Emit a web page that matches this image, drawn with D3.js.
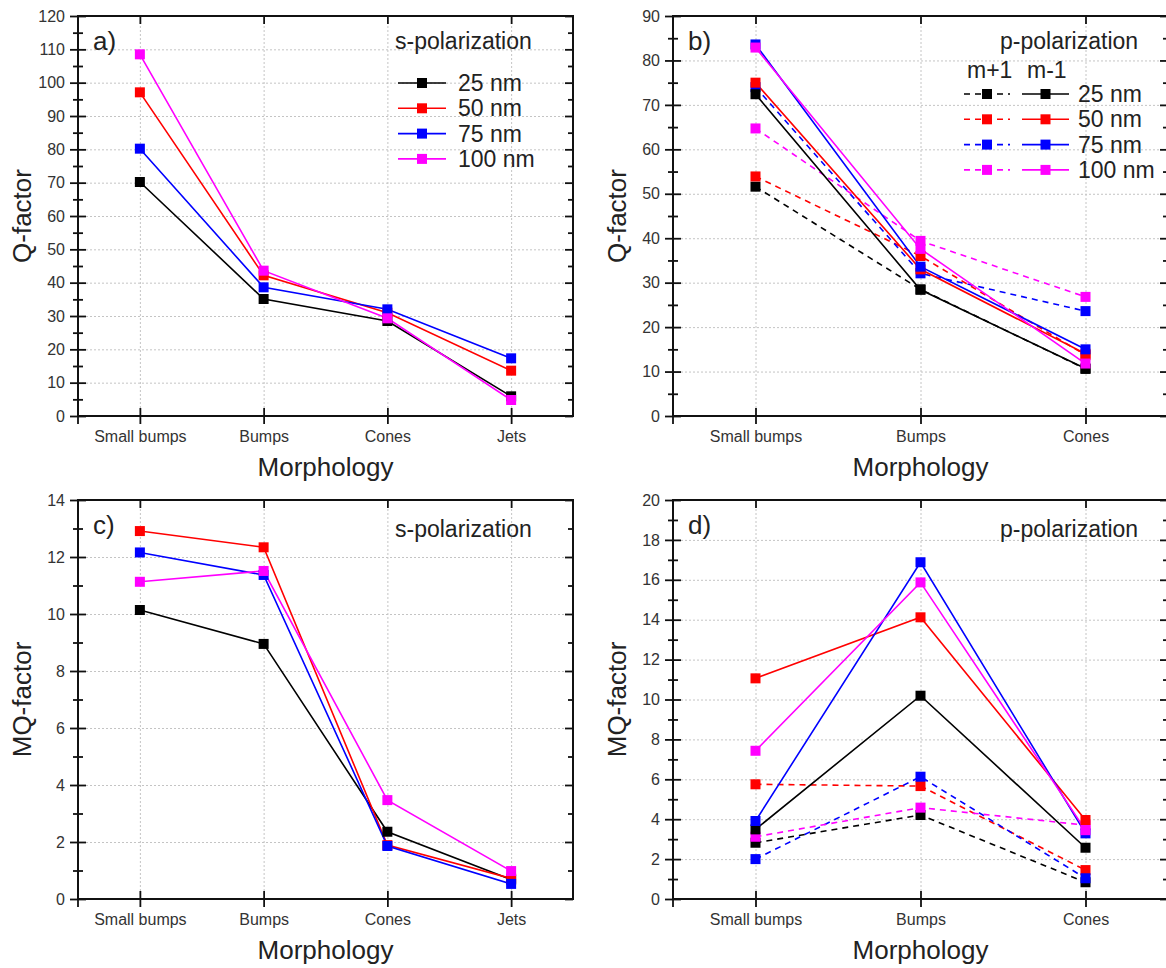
<!DOCTYPE html>
<html>
<head>
<meta charset="utf-8">
<script src="https://cdn.jsdelivr.net/npm/d3@7/dist/d3.min.js"></script>
<style>
  html, body { margin: 0; padding: 0; background: #fff; }
  svg { display: block; font-family: "Liberation Sans", Arial, sans-serif; }
  .tick text { fill: #333; }
</style>
</head>
<body>
<svg id="chart" width="1166" height="968"></svg>
<script>
// Morphology categories
const morphS = ["Small bumps", "Bumps", "Cones", "Jets"];
const morphP = ["Small bumps", "Bumps", "Cones"];

// Particle sizes and their colours
const sizes = ["25 nm", "50 nm", "75 nm", "100 nm"];
const sizeColors = ["#000000", "#ff0000", "#0000ff", "#ff00ff"];

// a) Q-factor, s-polarization (rows: 25, 50, 75, 100 nm)
const qFactorS = [
  [70.2, 35.1, 28.5, 5.9],
  [97.1, 42.2, 31.0, 13.6],
  [80.2, 38.6, 32.0, 17.3],
  [108.5, 43.6, 29.3, 4.8]
];

// b) Q-factor, p-polarization, m+1 (dashed) and m-1 (solid)
const qFactorPmPlus = [
  [51.6, 28.5, 10.6],
  [53.9, 36.0, 13.7],
  [74.0, 32.1, 23.6],
  [64.7, 39.4, 26.8]
];
const qFactorPmMinus = [
  [72.4, 28.4, 10.7],
  [75.0, 33.0, 14.0],
  [83.6, 33.6, 15.0],
  [82.9, 37.6, 11.8]
];

// c) MQ-factor, s-polarization
const mqFactorS = [
  [10.14, 8.95, 2.36, 0.68],
  [12.91, 12.34, 1.89, 0.72],
  [12.16, 11.37, 1.86, 0.53],
  [11.13, 11.51, 3.47, 0.98]
];

// d) MQ-factor, p-polarization, m+1 (dashed) and m-1 (solid)
const mqFactorPmPlus = [
  [2.82, 4.21, 0.84],
  [5.75, 5.66, 1.45],
  [2.0, 6.13, 1.04],
  [3.12, 4.58, 3.7]
];
const mqFactorPmMinus = [
  [3.49, 10.19, 2.57],
  [11.06, 14.12, 3.96],
  [3.91, 16.88, 3.29],
  [7.43, 15.87, 3.45]
];

// Axis tick settings per panel
const yTicksQS = { max: 120, major: 10, minor: 5 };
const yTicksQP = { max: 90, major: 10, minor: 5 };
const yTicksMQS = { max: 14, major: 2, minor: 1 };
const yTicksMQP = { max: 20, major: 2, minor: 1 };

const svg = d3.select("#chart");
const FONT_TICK = 16, FONT_TITLE = 26, FONT_NOTE = 23;

function drawPanel(p) {
  const g = svg.append("g");
  const left = p.left, top = p.top, w = p.width, h = p.height;
  const right = left + w, bottom = top + h;

  const x = d3.scalePoint().domain(p.cats).range([left, right]).padding(0.5);
  const y = d3.scaleLinear().domain([0, p.ticks.max]).range([bottom, top]);

  const majors = d3.range(0, p.ticks.max + 1e-9, p.ticks.major);
  const minors = d3.range(p.ticks.minor, p.ticks.max, p.ticks.major);

  // dotted grid
  g.append("g").attr("transform", `translate(${left},0)`)
    .call(d3.axisLeft(y).tickValues(majors.filter(v => v > 0 && v < p.ticks.max)).tickSize(-w).tickFormat(""))
    .call(s => s.select(".domain").remove())
    .selectAll("line").attr("stroke", "#c4c4c4").attr("stroke-dasharray", "2,2");
  g.append("g").attr("transform", `translate(0,${bottom})`)
    .call(d3.axisTop(x).tickSize(h).tickFormat(""))
    .call(s => s.select(".domain").remove())
    .selectAll("line").attr("stroke", "#c4c4c4").attr("stroke-dasharray", "2,2");

  const tickStyle = s => {
    s.select(".domain").remove();
    s.selectAll("line").attr("stroke", "#111").attr("stroke-width", 1.8);
  };

  // left axis: ticks crossing the axis line
  g.append("g").attr("transform", `translate(${left},0)`)
    .call(d3.axisLeft(y).tickValues(majors).tickSize(8).tickPadding(5).tickFormat(d3.format("d")))
    .call(tickStyle)
    .selectAll("text").attr("font-size", FONT_TICK).attr("font-family", "Liberation Sans, Arial, sans-serif");
  g.append("g").attr("transform", `translate(${left},0)`)
    .call(d3.axisRight(y).tickValues(majors).tickSize(8).tickFormat("")).call(tickStyle);
  g.append("g").attr("transform", `translate(${left},0)`)
    .call(d3.axisLeft(y).tickValues(minors).tickSize(5).tickFormat("")).call(tickStyle);
  g.append("g").attr("transform", `translate(${left},0)`)
    .call(d3.axisRight(y).tickValues(minors).tickSize(5).tickFormat("")).call(tickStyle);

  // right axis: inward ticks
  g.append("g").attr("transform", `translate(${right},0)`)
    .call(d3.axisLeft(y).tickValues(majors).tickSize(8).tickFormat("")).call(tickStyle);
  g.append("g").attr("transform", `translate(${right},0)`)
    .call(d3.axisLeft(y).tickValues(minors).tickSize(5).tickFormat("")).call(tickStyle);

  // bottom axis: category labels, ticks crossing the axis line
  g.append("g").attr("transform", `translate(0,${bottom})`)
    .call(d3.axisBottom(x).tickSize(8).tickPadding(7))
    .call(tickStyle)
    .selectAll("text").attr("font-size", FONT_TICK).attr("font-family", "Liberation Sans, Arial, sans-serif");
  g.append("g").attr("transform", `translate(0,${bottom})`)
    .call(d3.axisTop(x).tickSize(8).tickFormat("")).call(tickStyle);

  // top axis: inward ticks
  g.append("g").attr("transform", `translate(0,${top})`)
    .call(d3.axisBottom(x).tickSize(8).tickFormat("")).call(tickStyle);

  // frame
  g.append("rect").attr("x", left).attr("y", top).attr("width", w).attr("height", h)
    .attr("fill", "none").attr("stroke", "#111").attr("stroke-width", 2);
  g.append("line").attr("x1", left).attr("x2", left).attr("y1", bottom).attr("y2", bottom + 8)
    .attr("stroke", "#111").attr("stroke-width", 1.8);

  // axis titles
  g.append("text").attr("x", (left + right) / 2).attr("y", bottom + 60)
    .attr("text-anchor", "middle").attr("font-size", FONT_TITLE).attr("fill", "#222")
    .text("Morphology");
  g.append("text")
    .attr("transform", `translate(${left - 47},${(top + bottom) / 2}) rotate(-90)`)
    .attr("text-anchor", "middle").attr("font-size", FONT_TITLE).attr("fill", "#222")
    .text(p.yLabel);

  // panel tag and polarization note
  g.append("text").attr("x", left + 15).attr("y", top + 34)
    .attr("font-size", FONT_TITLE).attr("fill", "#222").text(p.tag);
  g.append("text").attr("x", p.noteX).attr("y", top + p.noteDy)
    .attr("font-size", FONT_NOTE).attr("fill", "#222").text(p.note);

  // data series
  const line = d3.line()
    .defined(d => d != null)
    .x((d, i) => x(p.cats[i]))
    .y(d => y(d));

  const MS = 10;
  p.series.forEach(s => {
    g.append("path").datum(s.values)
      .attr("d", line).attr("fill", "none")
      .attr("stroke", s.color).attr("stroke-width", 1.6)
      .attr("stroke-dasharray", s.dashed ? "6,5" : null);
  });
  p.series.forEach(s => {
    g.selectAll(null).data(s.values.map((v, i) => ({ v, i })).filter(d => d.v != null))
      .enter().append("rect")
      .attr("x", d => x(p.cats[d.i]) - MS / 2)
      .attr("y", d => y(d.v) - MS / 2)
      .attr("width", MS).attr("height", MS)
      .attr("fill", s.color);
  });

  return g;
}

function legendMarker(g, x1, x2, cy, color, dashed) {
  g.append("line").attr("x1", x1).attr("x2", x2).attr("y1", cy).attr("y2", cy)
    .attr("stroke", color).attr("stroke-width", 1.6)
    .attr("stroke-dasharray", dashed ? "6,5" : null);
  g.append("rect").attr("x", (x1 + x2) / 2 - 5).attr("y", cy - 5)
    .attr("width", 10).attr("height", 10).attr("fill", color);
}

const solidSeries = arr => arr.map((vals, k) => ({ values: vals, color: sizeColors[k], dashed: false }));
const dashedSeries = arr => arr.map((vals, k) => ({ values: vals, color: sizeColors[k], dashed: true }));

// a)
const gA = drawPanel({
  left: 78, top: 16, width: 495, height: 400, cats: morphS, ticks: yTicksQS,
  yLabel: "Q-factor", tag: "a)", note: "s-polarization", noteX: 395, noteDy: 33,
  series: solidSeries(qFactorS)
});
sizes.forEach((name, k) => {
  const cy = 83 + k * 25.3;
  legendMarker(gA, 398, 446, cy, sizeColors[k], false);
  gA.append("text").attr("x", 458).attr("y", cy + 8).attr("font-size", FONT_NOTE)
    .attr("fill", "#222").text(name);
});

// b)
const gB = drawPanel({
  left: 673, top: 16, width: 495, height: 400, cats: morphP, ticks: yTicksQP,
  yLabel: "Q-factor", tag: "b)", note: "p-polarization", noteX: 1000, noteDy: 33,
  series: dashedSeries(qFactorPmPlus).concat(solidSeries(qFactorPmMinus))
});
gB.append("text").attr("x", 967).attr("y", 78).attr("font-size", FONT_NOTE).attr("fill", "#222").text("m+1");
gB.append("text").attr("x", 1027).attr("y", 78).attr("font-size", FONT_NOTE).attr("fill", "#222").text("m-1");
sizes.forEach((name, k) => {
  const cy = 94 + k * 25.3;
  legendMarker(gB, 964, 1010, cy, sizeColors[k], true);
  legendMarker(gB, 1022, 1069, cy, sizeColors[k], false);
  gB.append("text").attr("x", 1078).attr("y", cy + 8).attr("font-size", FONT_NOTE)
    .attr("fill", "#222").text(name);
});

// c)
drawPanel({
  left: 78, top: 500, width: 495, height: 399, cats: morphS, ticks: yTicksMQS,
  yLabel: "MQ-factor", tag: "c)", note: "s-polarization", noteX: 395, noteDy: 37,
  series: solidSeries(mqFactorS)
});

// d)
drawPanel({
  left: 673, top: 500, width: 495, height: 399, cats: morphP, ticks: yTicksMQP,
  yLabel: "MQ-factor", tag: "d)", note: "p-polarization", noteX: 1000, noteDy: 37,
  series: dashedSeries(mqFactorPmPlus).concat(solidSeries(mqFactorPmMinus))
});
</script>
</body>
</html>
